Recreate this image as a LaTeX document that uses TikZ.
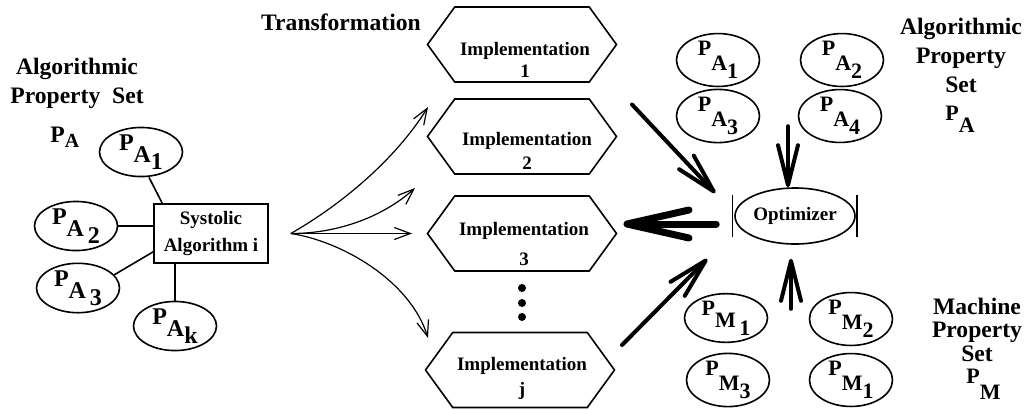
\documentclass[tikz,border=0pt]{standalone}
\usepackage{fontspec}
\setmainfont{Liberation Serif}
\usetikzlibrary{positioning, arrows.meta, shapes.geometric, shapes.symbols}
\newcommand{\hdfont}{\fontsize{11.8}{14.5}\selectfont\bfseries}
\newcommand{\imfont}{\fontsize{9.5}{11}\selectfont\bfseries}
% P with a subscript that has its own subscript
\newcommand{\psub}[2]{P\raisebox{-7.5pt}{#1\raisebox{-4pt}{#2}}}
\newcommand{\psubl}[2]{P\raisebox{-6pt}{#1\raisebox{-3.5pt}{#2}}}

\begin{document}
\begin{tikzpicture}[
  x=0.5pt, y=-0.5pt,
  hd/.style={font=\hdfont, align=center, inner sep=0pt},
  impl/.style={draw, line width=0.8pt, shape=signal, signal to=west and east,
               signal pointer angle=108, minimum width=94.5pt,
               minimum height=37.5pt, inner sep=0pt},
  impltext/.style={font=\imfont, align=center, inner sep=0pt, anchor=north},
  prop/.style={draw, ellipse, line width=0.8pt, minimum width=41.5pt,
               minimum height=23pt, inner sep=0pt,
               font=\fontsize{11}{11}\selectfont\bfseries},
  propl/.style={prop, minimum height=24pt,
                font=\fontsize{12}{12}\selectfont\bfseries},
  link/.style={line width=0.8pt},
  flow/.style={-{Straight Barb[length=8pt,width=6pt]}, line width=0.6pt},
  fat/.style={-{Straight Barb[length=20pt,width=10pt,round]},
              line width=2pt, line cap=round},
  fatter/.style={-{Straight Barb[length=31pt,width=14pt,round]},
                 line width=3.5pt, line cap=round},
  dot/.style={circle, fill, inner sep=0pt, minimum size=4pt},
]
  \useasboundingbox (0,0) rectangle (1029,409);

  % Systolic algorithm and its property set
  \node[hd, anchor=north] (lhead) at (77,58) {Algorithmic\\Property\ \ Set};
  \node[hd, anchor=base west] (lpa) at (50,142)
    {P\raisebox{-2.5pt}{\fontsize{10}{10}\selectfont A}};
  \node[draw, line width=0.8pt, minimum width=57pt, minimum height=29.5pt,
        font=\imfont, align=center] (sys) at (211,233.5)
    {Systolic\\[2.5pt]Algorithm i};
  \node[propl] (pa1l) at (141,152) {\psubl{A}{1}};
  \node[propl] (pa2l) at (76,226) {\psubl{A}{\,2}};
  \node[propl] (pa3l) at (78,288) {\psubl{A}{\,3}};
  \node[propl] (pakl) at (175,326) {\psubl{A}{k}};
  \draw[link] ([xshift=4pt]pa1l.south) -- ([xshift=4.5pt]sys.north west);
  \draw[link] (pa2l.east) -- (pa2l.east -| sys.west);
  \draw[link] (pa3l.20) -- ([yshift=6pt]sys.south west);
  \draw[link] (pakl.north) -- (pakl.north |- sys.south);

  % Transformation into implementations
  \node[hd] (trans) at (341,22) {Transformation};
  \node[impl] (impl1) at (522,44.5) {};
  \node[impl] (impl2) at (522,136.5) {};
  \node[impl] (impl3) at (522,233.5) {};
  \node[impl] (implj) at (520,370) {};
  \node[impltext] (txt1) at (525,42) {Implementation\\1};
  \node[impltext] (txt2) at (527,132) {Implementation\\[1pt]2};
  \node[impltext] (txt3) at (524,222) {Implementation\\[4pt]3};
  \node[impltext] (txtj) at (522,357) {Implementation\\[1.5pt]j};
  \foreach \y in {288,303,317}
    \node[dot] (dot\y) at (522,\y) {};

  \coordinate (fork) at ([xshift=11pt]sys.east);
  \coordinate (to1) at (428,107);
  \coordinate (to2) at (415,188);
  \coordinate (to3) at (412,233.5);
  \coordinate (toj) at (428,338);
  \draw[flow] (fork) .. controls +(50,-28.5) and +(-33,53) .. (to1);
  \draw[flow] (fork) .. controls +(50,0) and +(-30,27) .. (to2);
  \draw[flow] (fork) -- (to3);
  \draw[flow] (fork) .. controls +(50,7.5) and +(-18,-58) .. (toj);

  % Optimizer
  \node[draw, ellipse, line width=0.8pt, minimum width=60pt,
        minimum height=28pt, inner sep=0pt, font=\imfont] (opt)
    at (795,216) {Optimizer};
  \draw[line width=0.7pt] ([xshift=-1pt,yshift=10.5pt]opt.west)
    -- ([xshift=-1pt,yshift=-10.5pt]opt.west);
  \draw[line width=0.7pt] ([xshift=0.5pt,yshift=10.5pt]opt.east)
    -- ([xshift=0.5pt,yshift=-10.5pt]opt.east);
  \draw[fat] ([xshift=55pt,yshift=-30pt]impl1.center)
    -- ([xshift=-9.5pt,yshift=11.5pt]opt.west);
  \draw[fat] ([xshift=51pt,yshift=12.5pt]implj.center)
    -- ([xshift=-13.5pt,yshift=-21.5pt]opt.west);
  \draw[fatter, shorten >=3pt] ([xshift=-9pt,yshift=-4pt]opt.west)
    coordinate (ob) -- (ob -| impl3.east);
  \draw[fat] ([xshift=-3.5pt,yshift=30.5pt]opt.north)
    -- ([xshift=-3.5pt]opt.north);
  \draw[fat] ([xshift=-2pt,yshift=-32pt]opt.south)
    -- ([xshift=-2pt,yshift=-7pt]opt.south);

  % Algorithmic property set
  \node[hd, anchor=north] (rhead) at (961,18) {Algorithmic\\Property\\Set};
  \node[hd, anchor=base west] (rpa) at (945,120)
    {\fontsize{11}{11}\selectfont P\raisebox{-6pt}{A}};
  \node[prop] (pa1) at (718,60) {\psub{A}{1}};
  \node[prop] (pa2) at (842,60) {\psub{A}{2}};
  \node[prop, minimum height=24pt] (pa3) at (718,116) {\psub{A}{3}};
  \node[prop, minimum height=24pt] (pa4) at (840,116) {\psub{A}{4}};

  % Machine property set
  \node[hd, anchor=north] (mhead) at (977,298)
    {Machine\\[-3.3pt]Property\\[-2.5pt]Set};
  \node[hd, anchor=base west] (rpm) at (966,383)
    {\fontsize{11}{11}\selectfont P\raisebox{-8pt}{M}};
  \node[prop, minimum height=22pt] (pm1) at (726,318)
    {P\raisebox{-6pt}{M\,\raisebox{-4pt}{1}}};
  \node[prop, minimum height=22pt] (pm2) at (851,319) {\psub{M}{2}};
  \node[prop, minimum height=22pt] (pm3) at (728,380) {\psub{M}{3}};
  \node[prop, minimum height=22pt] (pm4) at (851,380) {\psub{M}{1}};
\end{tikzpicture}
\end{document}
